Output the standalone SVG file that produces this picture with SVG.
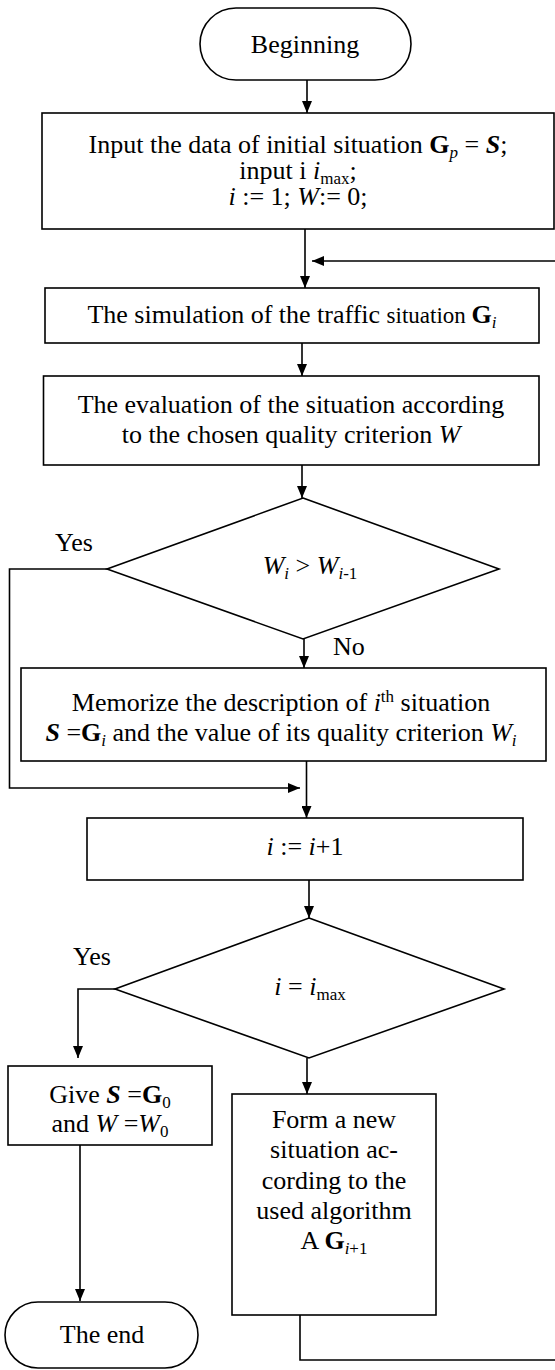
<svg xmlns="http://www.w3.org/2000/svg" width="555" height="1370" viewBox="0 0 555 1370">
<defs>
<marker id="ah" markerUnits="userSpaceOnUse" markerWidth="12" markerHeight="10" refX="12" refY="5" orient="auto">
<path d="M0,0 L12,5 L0,10 z" fill="#000"/>
</marker>
<style>
.box{fill:#fff;stroke:#000;stroke-width:1.6}
.con{fill:none;stroke:#000;stroke-width:1.6}
.arr{marker-end:url(#ah)}
text{font-family:"Liberation Serif","Times New Roman",serif;font-size:26px;fill:#000}
.c{text-anchor:middle}
.it{font-style:italic}
.b{font-weight:bold}
.sub{font-size:17px}
.sm{font-size:23px}
</style>
</defs>
<rect width="555" height="1370" fill="#fff"/>
<g id="connectors">
<path class="con arr" d="M307,80 V113"/>
<path class="con arr" d="M305,229 V288"/>
<path class="con arr" d="M555,261 H312"/>
<path class="con arr" d="M302,343 V376"/>
<path class="con arr" d="M302,465 V498"/>
<path class="con arr" d="M107,569 H9.5 V788 H300"/>
<path class="con arr" d="M304,639 V668"/>
<path class="con arr" d="M306.5,761 V818"/>
<path class="con arr" d="M309,880 V918"/>
<path class="con arr" d="M115,989 H78 V1058"/>
<path class="con arr" d="M307,1058 V1094"/>
<path class="con arr" d="M80,1145 V1301"/>
<path class="con" d="M300,1315 V1360 H555"/>
</g>
<g id="beginning">
<rect class="box" x="200" y="8" width="211" height="72" rx="36" ry="36"/>
<text class="c" x="305" y="53">Beginning</text>
</g>
<g id="input">
<rect class="box" x="42" y="113" width="512" height="116"/>
<text class="c" x="298" y="153">Input the data of initial situation <tspan class="b">G</tspan><tspan class="it sub" dy="5">p</tspan><tspan dy="-5"> = </tspan><tspan class="b it">S</tspan>;</text>
<text class="c" x="298" y="179">input i <tspan class="it">i</tspan><tspan class="sub" dy="5">max</tspan><tspan dy="-5">;</tspan></text>
<text class="c" x="298" y="205"><tspan class="it">i</tspan> := 1; <tspan class="it">W</tspan>:= 0;</text>
</g>
<g id="simulation">
<rect class="box" x="45" y="288" width="494" height="55"/>
<text class="c" x="292" y="323">The simulation of the traffic <tspan class="sm">situation </tspan><tspan class="b">G</tspan><tspan class="it sub" dy="5">i</tspan></text>
</g>
<g id="evaluation">
<rect class="box" x="43.5" y="376" width="495.5" height="89"/>
<text class="c" x="291" y="413">The evaluation of the situation according</text>
<text class="c" x="291" y="443">to the chosen quality criterion <tspan class="it">W</tspan></text>
</g>
<g id="decision1">
<polygon class="box" points="303,498 499,569 303,639 107,569"/>
<text class="c" x="310" y="574"><tspan class="it">W</tspan><tspan class="it sub" dy="5">i</tspan><tspan dy="-5"> &gt; </tspan><tspan class="it">W</tspan><tspan class="sub" dy="5"><tspan class="it">i</tspan>-1</tspan></text>
<text x="55" y="551">Yes</text>
<text x="333" y="655">No</text>
</g>
<g id="memorize">
<rect class="box" x="21" y="668" width="525" height="93"/>
<text class="c" x="281" y="711">Memorize the description of <tspan class="it">i</tspan><tspan class="sub" dy="-9">th</tspan><tspan dy="9"> situation</tspan></text>
<text class="c" x="281" y="741"><tspan class="b it">S</tspan> =<tspan class="b">G</tspan><tspan class="it sub" dy="5">i</tspan><tspan dy="-5"> and the value of its quality criterion </tspan><tspan class="it">W</tspan><tspan class="it sub" dy="5">i</tspan></text>
</g>
<g id="increment">
<rect class="box" x="87" y="818" width="436" height="62"/>
<text class="c" x="305" y="855"><tspan class="it">i</tspan> := <tspan class="it">i</tspan>+1</text>
</g>
<g id="decision2">
<polygon class="box" points="309,918 504,989 309,1058 115,989"/>
<text class="c" x="310" y="995"><tspan class="it">i</tspan> = <tspan class="it">i</tspan><tspan class="sub" dy="5">max</tspan></text>
<text x="73" y="965">Yes</text>
</g>
<g id="give">
<rect class="box" x="8" y="1066" width="204" height="79"/>
<text class="c" x="110" y="1103">Give <tspan class="b it">S</tspan> =<tspan class="b">G</tspan><tspan class="sub" dy="5">0</tspan></text>
<text class="c" x="110" y="1132">and <tspan class="it">W</tspan> =<tspan class="it">W</tspan><tspan class="sub" dy="5">0</tspan></text>
</g>
<g id="form">
<rect class="box" x="232" y="1094" width="204" height="221"/>
<text class="c" x="334" y="1128">Form a new</text>
<text class="c" x="334" y="1158">situation ac-</text>
<text class="c" x="334" y="1189">cording to the</text>
<text class="c" x="334" y="1219">used algorithm</text>
<text class="c" x="334" y="1249">A <tspan class="b">G</tspan><tspan class="sub" dy="5"><tspan class="it">i</tspan>+1</tspan></text>
</g>
<g id="end">
<rect class="box" x="5" y="1302" width="193" height="66" rx="33" ry="33"/>
<text class="c" x="102" y="1343">The end</text>
</g>
</svg>
